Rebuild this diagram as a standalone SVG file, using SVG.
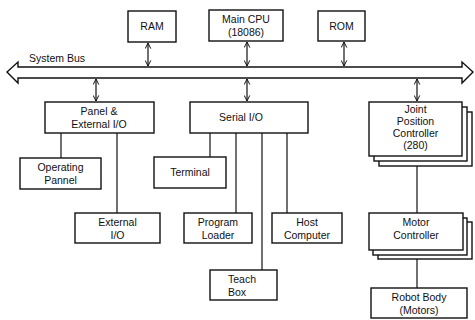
<svg xmlns="http://www.w3.org/2000/svg" width="475" height="320" viewBox="0 0 475 320">
<defs>
<style>
.box{fill:#fff;stroke:#111;stroke-width:1.4}
.ln{fill:none;stroke:#111;stroke-width:1.2}
.ar{fill:none;stroke:#111;stroke-width:1.2;marker-start:url(#ah);marker-end:url(#ah)}
text{font-family:"Liberation Sans",Arial,sans-serif;font-size:10.5px;fill:#111;text-anchor:middle}
</style>
<marker id="ah" viewBox="0 0 10 10" refX="9" refY="5" markerWidth="7" markerHeight="7" orient="auto-start-reverse" markerUnits="userSpaceOnUse">
<path d="M1,1 L9,5 L1,9" fill="none" stroke="#111" stroke-width="1.4"/>
</marker>
</defs>
<rect width="475" height="320" fill="#fff"/>

<g id="bus">
<polygon class="box" points="7,72 18,62 18,67 462,67 462,62 473,72 462,83 462,78 18,78 18,83"/>
<text x="29" y="62" style="text-anchor:start">System Bus</text>
</g>

<g id="connectors">
<line class="ar" x1="148" y1="43" x2="148" y2="66"/>
<line class="ar" x1="247" y1="42" x2="247" y2="66"/>
<line class="ar" x1="344" y1="42" x2="344" y2="66"/>
<line class="ar" x1="96" y1="79" x2="96" y2="101"/>
<line class="ar" x1="247" y1="79" x2="247" y2="101"/>
<line class="ar" x1="417" y1="79" x2="417" y2="101"/>
<line class="ln" x1="61" y1="133" x2="61" y2="158"/>
<line class="ln" x1="117" y1="133" x2="117" y2="213"/>
<line class="ln" x1="210" y1="133" x2="210" y2="157"/>
<line class="ln" x1="236" y1="133" x2="236" y2="213"/>
<line class="ln" x1="262" y1="133" x2="262" y2="270"/>
<line class="ln" x1="287" y1="133" x2="287" y2="213"/>
<line class="ln" x1="417" y1="165" x2="417" y2="213"/>
<line class="ln" x1="417" y1="258" x2="417" y2="288"/>
</g>

<g id="ram">
<rect class="box" x="128" y="11" width="48" height="31"/>
<text x="152" y="30">RAM</text>
</g>
<g id="cpu">
<rect class="box" x="209" y="10" width="74" height="31"/>
<text x="246" y="23">Main CPU</text>
<text x="246" y="36">(18086)</text>
</g>
<g id="rom">
<rect class="box" x="318" y="11" width="47" height="30"/>
<text x="341.5" y="30">ROM</text>
</g>

<g id="panel">
<rect class="box" x="45" y="102" width="109" height="31"/>
<text x="99" y="115">Panel &amp;</text>
<text x="99" y="128">External I/O</text>
</g>
<g id="operating">
<rect class="box" x="20" y="158" width="81" height="31"/>
<text x="60.5" y="171">Operating</text>
<text x="60.5" y="184">Pannel</text>
</g>
<g id="extio">
<rect class="box" x="75" y="213" width="85" height="30"/>
<text x="117.5" y="226">External</text>
<text x="117.5" y="239">I/O</text>
</g>

<g id="serial">
<rect class="box" x="190" y="102" width="118" height="31"/>
<text x="241" y="121">Serial I/O</text>
</g>
<g id="terminal">
<rect class="box" x="154" y="157" width="72" height="31"/>
<text x="190" y="176">Terminal</text>
</g>
<g id="loader">
<rect class="box" x="184" y="213" width="68" height="30"/>
<text x="218" y="226">Program</text>
<text x="218" y="239">Loader</text>
</g>
<g id="teach">
<rect class="box" x="210" y="270" width="67" height="30"/>
<text x="228" y="283" style="text-anchor:start">Teach</text>
<text x="228" y="296" style="text-anchor:start">Box</text>
</g>
<g id="host">
<rect class="box" x="272" y="213" width="70" height="30"/>
<text x="307" y="226">Host</text>
<text x="307" y="239">Computer</text>
</g>

<g id="joint">
<rect class="box" x="379" y="112" width="93" height="54"/>
<rect class="box" x="374" y="107" width="93" height="54"/>
<rect class="box" x="369" y="102" width="93" height="54"/>
<text x="415.5" y="113">Joint</text>
<text x="415.5" y="125">Position</text>
<text x="415.5" y="137">Controller</text>
<text x="415.5" y="149">(280)</text>
</g>
<g id="motor">
<rect class="box" x="378" y="222" width="94" height="37"/>
<rect class="box" x="373" y="218" width="94" height="37"/>
<rect class="box" x="369" y="213" width="94" height="37"/>
<text x="416" y="226">Motor</text>
<text x="416" y="239">Controller</text>
</g>
<g id="robot">
<rect class="box" x="371" y="288" width="96" height="30"/>
<text x="419" y="301">Robot Body</text>
<text x="419" y="314">(Motors)</text>
</g>
</svg>
